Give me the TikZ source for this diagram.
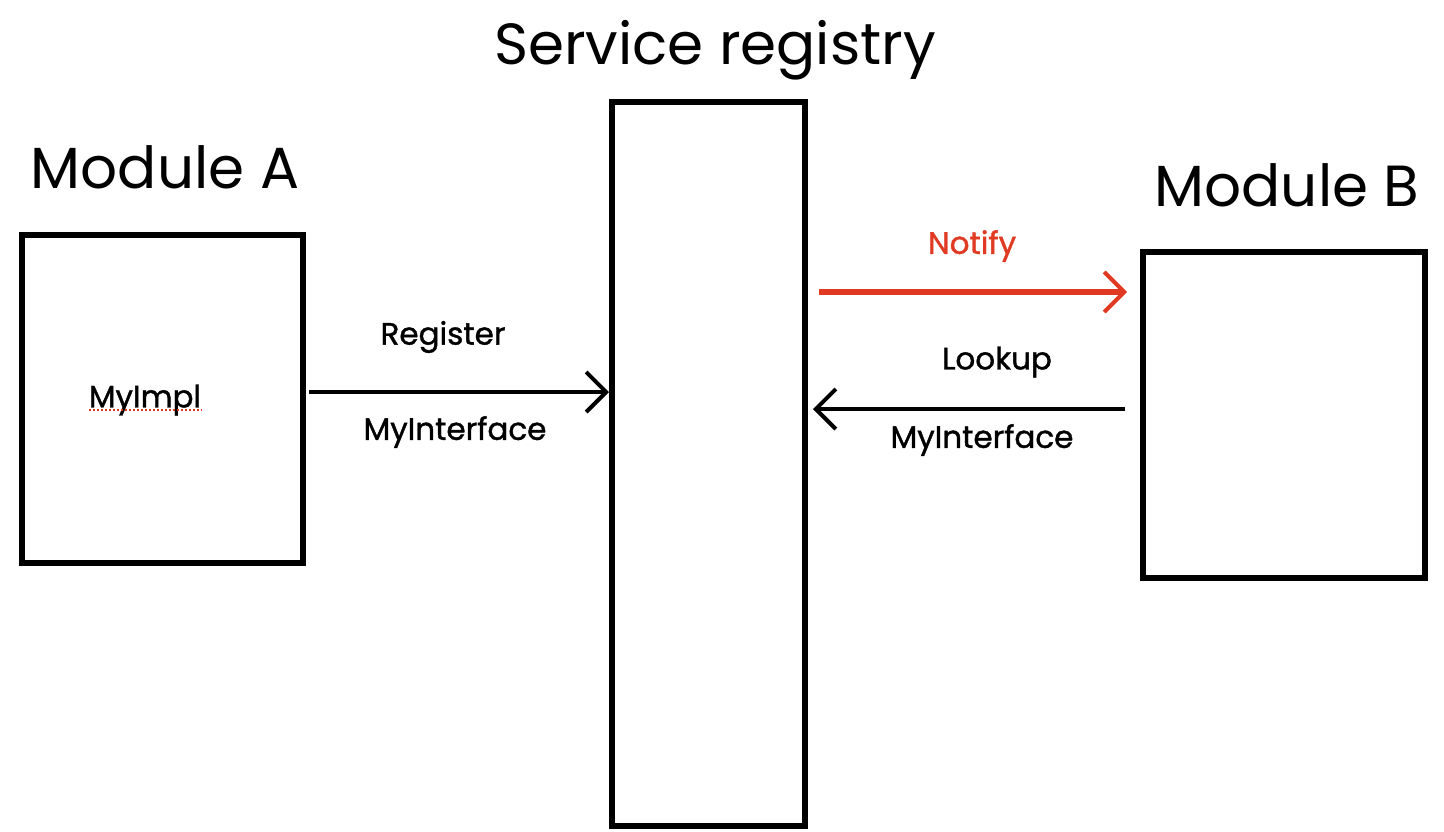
\documentclass[tikz,border=0pt]{standalone}
\usepackage{fontspec}
\setmainfont{Poppins}
\newfontfamily\lblfont[FakeBold=1.2]{Poppins}
\usetikzlibrary{arrows.meta}
\definecolor{sketchred}{HTML}{E03A22}
\tikzset{
  box/.style={draw=black, line width=6pt, fill=white, inner sep=0pt},
  title/.style={font=\fontsize{58}{64}\selectfont, inner sep=0pt},
  lbl/.style={font=\lblfont\fontsize{31}{34}\selectfont, inner sep=0pt},
  conn/.style={line width=4pt, -{Straight Barb[length=20pt,width=40pt,line width=4pt]}},
}
\begin{document}
\begin{tikzpicture}[x=1pt,y=-1pt]
\useasboundingbox[fill=white] (0,0) rectangle (1444,831);
% boxes
\node[box, minimum width=281pt, minimum height=328pt] (A) at (162.5,399) {};
\node[box, minimum width=193pt, minimum height=724pt] (R) at (708.5,464) {};
\node[box, minimum width=282pt, minimum height=326pt] (B) at (1284,415) {};
% titles
\node[title] (tA) at (165,167) {Module A};
\node[title] (tR) at (715,50) {Service registry};
\node[title] (tB) at (1287,185) {Module B};
% inner label
\node[lbl] (impl) at (145,400) {MyImpl};
\draw[sketchred, line width=2pt, dotted] ([yshift=-3pt]impl.base west) -- ([yshift=-3pt]impl.base east);
% connector labels
\node[lbl] (reg) at (443,337) {Register};
\node[lbl] (mi1) at (455,432) {MyInterface};
\node[lbl, text=sketchred] (nt) at (972,246) {Notify};
\node[lbl] (lk) at (997,362) {Lookup};
\node[lbl] (mi2) at (982,440) {MyInterface};
% connectors
\draw[conn, shorten <=3pt] (A.east |- 0,392) -- (R.west |- 0,392);
\draw[conn, sketchred, line width=6pt, shorten <=11pt, shorten >=13pt] (R.east |- 0,292) -- (B.west |- 0,292);
\draw[conn, shorten <=15pt, shorten >=5pt] (B.west |- 0,409) -- (R.east |- 0,409);
\end{tikzpicture}
\end{document}
